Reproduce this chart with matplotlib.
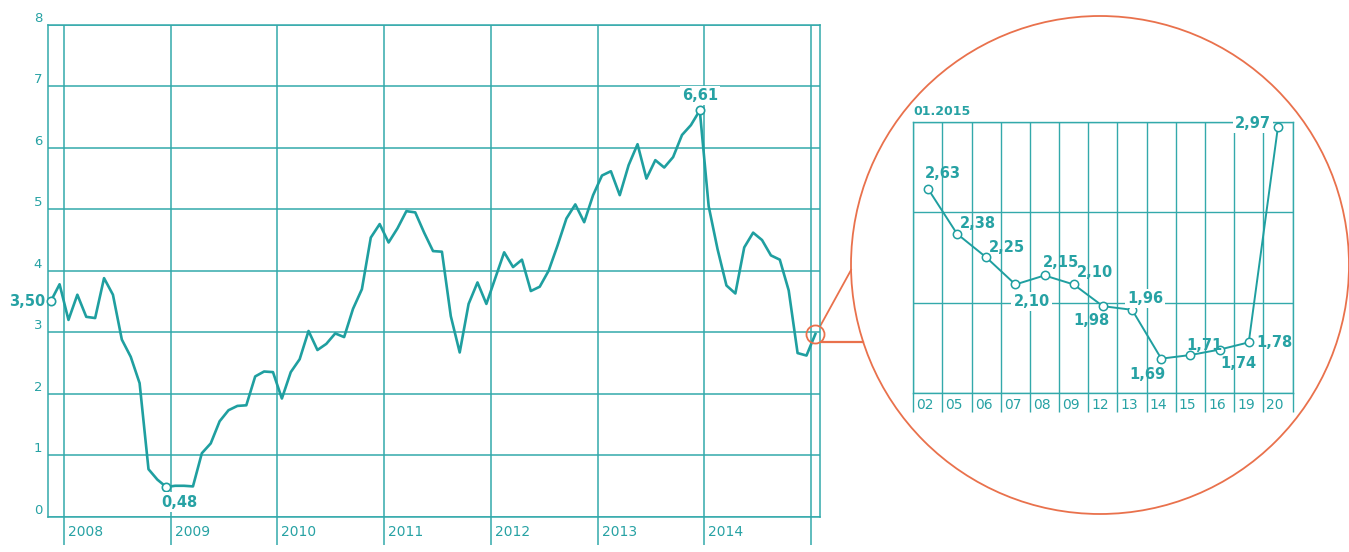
import numpy as np
import matplotlib
matplotlib.use("Agg")
import matplotlib.pyplot as plt
from matplotlib.patches import Circle

# monthly values, Nov 2007 .. Jan 2015
main_values = [
    3.50, 3.78, 3.20, 3.61, 3.25, 3.23, 3.88, 3.61, 2.88, 2.60, 2.17, 0.77,
    0.60, 0.48, 0.50, 0.50, 0.49, 1.03, 1.19, 1.55, 1.73, 1.80, 1.81, 2.28,
    2.36, 2.35, 1.92, 2.35, 2.56, 3.02, 2.71, 2.81, 2.98, 2.92, 3.38, 3.70,
    4.54, 4.76, 4.46, 4.69, 4.97, 4.95, 4.62, 4.32, 4.31, 3.26, 2.67, 3.46,
    3.81, 3.46, 3.88, 4.30, 4.06, 4.18, 3.67, 3.74, 4.00, 4.41, 4.85, 5.08,
    4.79, 5.23, 5.55, 5.62, 5.23, 5.72, 6.06, 5.50, 5.80, 5.68, 5.85, 6.21,
    6.37, 6.61, 5.05, 4.35, 3.76, 3.63, 4.38, 4.62, 4.50, 4.25, 4.18, 3.68,
    2.66, 2.62, 2.97,
]
main_start_year = 2007
main_start_month = 11
year_ticks = [2008, 2009, 2010, 2011, 2012, 2013, 2014, 2015]
year_labels = ["2008", "2009", "2010", "2011", "2012", "2013", "2014"]
y_ticks = [0, 1, 2, 3, 4, 5, 6, 7, 8]

# January 2015, by day
inset_title = "01.2015"
inset_days = ["02", "05", "06", "07", "08", "09", "12", "13", "14", "15", "16", "19", "20"]
inset_values = [2.63, 2.38, 2.25, 2.10, 2.15, 2.10, 1.98, 1.96, 1.69, 1.71, 1.74, 1.78, 2.97]
inset_y_grid = [1.5, 2.0, 2.5, 3.0]

LINE = "#1f9fa0"
GRID = "#33a9ab"
TEXT = "#27a2a4"
ORANGE = "#e9714c"
W, H = 1349, 552


def fmt(v):
    return f"{v:.2f}".replace(".", ",")


def box(l, t, r, b):
    # pixel box of the picture -> figure fraction
    return [l / W, 1 - b / H, (r - l) / W, (b - t) / H]


plt.rcParams["font.family"] = ["DejaVu Sans"]

fig = plt.figure(figsize=(W / 100, H / 100), dpi=100)

# overlay in picture pixels, for the circles
ov = fig.add_axes([0, 0, 1, 1])
ov.set_xlim(0, W)
ov.set_ylim(H, 0)
ov.axis("off")

# ---- main chart
ax = fig.add_axes(box(47.7, 25, 820, 516.5))
ax.set_facecolor("none")
months = np.arange(len(main_values))
x_main = main_start_year + (main_start_month - 0.5 + months) / 12.0
vals = np.array(main_values)

ax.set_xlim(2007.847, 2015.085)
ax.set_ylim(0, 8)
ax.set_xticks(year_ticks)
ax.set_yticks(y_ticks, labels=[str(v) for v in y_ticks], va="bottom")
ax.grid(True, color=GRID, lw=1.1)
for s in ax.spines.values():
    s.set_color(GRID)
    s.set_linewidth(1.1)
ax.tick_params(axis="x", direction="out", length=20, width=1.1, color=GRID, labelbottom=False)
ax.tick_params(axis="y", length=0, pad=4, labelcolor=TEXT, labelsize=9.5)

for yr, lab in zip(year_ticks, year_labels):
    ax.annotate(lab, xy=(yr, 0), xycoords=("data", "axes fraction"), xytext=(4, -16),
                textcoords="offset pixels", ha="left", va="center", color=TEXT,
                fontsize=10, annotation_clip=False)

ax.plot(x_main, vals, color=LINE, lw=1.9, solid_joinstyle="round", zorder=3, clip_on=False)

i_first, i_min, i_max = 0, int(np.argmin(vals)), int(np.argmax(vals))
key = [i_first, i_min, i_max]
ax.plot(x_main[key], vals[key], "o", ms=6, mfc="white", mec=LINE, mew=1.2, zorder=4, clip_on=False)
wbox = dict(boxstyle="square,pad=0.15", fc="white", ec="none")
main_label_pos = {i_first: ((-5, 0), "right", None),
                  i_min: ((-5, -15), "left", wbox),
                  i_max: ((0, 15), "center", wbox)}
for i, (off, ha, bb) in main_label_pos.items():
    ax.annotate(fmt(vals[i]), xy=(x_main[i], vals[i]), xytext=off, textcoords="offset pixels",
                ha=ha, va="center", color=TEXT, fontsize=10.5, fontweight="bold",
                bbox=bb, zorder=5, annotation_clip=False)

# small circle round the last month
ax.plot(x_main[-1], vals[-1], "o", ms=13, mfc="none", mec=ORANGE, mew=1.3, zorder=6, clip_on=False)

# ---- zoom circle and connectors
cx, cy, r = 1100, 265, 249
ov.add_patch(Circle((cx, cy), r, fill=False, ec=ORANGE, lw=1.3))
sx, sy = ov.transData.inverted().transform(ax.transData.transform((x_main[-1], vals[-1])))
up_y = cy + 5
low_y = sy + 8.3
ov.plot([sx + 5, cx - np.sqrt(r**2 - (up_y - cy) ** 2)], [sy - 8.3, up_y], color=ORANGE, lw=1.3)
ov.plot([sx + 6.7, cx - np.sqrt(r**2 - (low_y - cy) ** 2)], [low_y, low_y], color=ORANGE, lw=1.6)

# ---- inset
ins = fig.add_axes(box(913.3, 121.7, 1292.5, 393))
ins.set_facecolor("none")
n = len(inset_days)
xi = np.arange(n) + 0.5
ins.set_xlim(0, n)
ins.set_ylim(inset_y_grid[0], inset_y_grid[-1])
ins.set_xticks(np.arange(n + 1))
ins.set_yticks(inset_y_grid)
ins.grid(True, color=GRID, lw=1.0)
for s in ins.spines.values():
    s.set_color(GRID)
    s.set_linewidth(1.0)
ins.tick_params(axis="x", direction="out", length=14, width=1.0, color=GRID, labelbottom=False)
ins.tick_params(axis="y", length=0, labelleft=False)

for i, lab in enumerate(inset_days):
    ins.annotate(lab, xy=(i, 0), xycoords=("data", "axes fraction"), xytext=(3, -12),
                 textcoords="offset pixels", ha="left", va="center", color=TEXT,
                 fontsize=10, annotation_clip=False)
ins.annotate(inset_title, xy=(0, 1), xycoords="axes fraction", xytext=(0, 10),
             textcoords="offset pixels", ha="left", va="center", color=TEXT,
             fontsize=9, fontweight="bold", annotation_clip=False)

ins.plot(xi, inset_values, color=LINE, lw=1.4, zorder=4, clip_on=False)
ins.plot(xi, inset_values, "o", ms=6, mfc="white", mec=LINE, mew=1.1, zorder=4, clip_on=False)

inset_label_pos = [
    ((-3, 15), "left", None), ((3, 10), "left", None), ((3, 10), "left", None),
    ((-2, -17), "left", wbox), ((-2, 13), "left", None), ((3, 12), "left", None),
    ((7, -14), "right", None), ((-5, 11), "left", wbox), ((4, -16), "right", None),
    ((-4, 10), "left", None), ((1, -14), "left", None), ((8, 0), "left", None),
    ((-7, 4), "right", wbox),
]
for x, v, (off, ha, bb) in zip(xi, inset_values, inset_label_pos):
    ins.annotate(fmt(v), xy=(x, v), xytext=off, textcoords="offset pixels", ha=ha, va="center",
                 color=TEXT, fontsize=10.5, fontweight="bold", bbox=bb, zorder=5,
                 annotation_clip=False)

fig.savefig("out.png", dpi=100, facecolor="white")
